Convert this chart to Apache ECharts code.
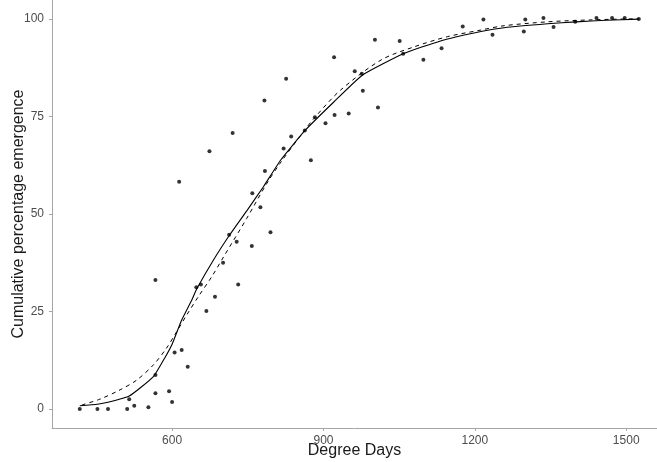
<!DOCTYPE html>
<html>
<head>
<meta charset="utf-8">
<script src="https://cdn.jsdelivr.net/npm/echarts@6/dist/echarts.min.js"></script>
<style>
  html, body { margin: 0; padding: 0; background: #fff; }
  #chart { width: 657px; height: 462px; }
</style>
</head>
<body>
<div id="chart"></div>
<script>
// observed emergence (degree days, cumulative %)
const obsDD = [417, 452, 473, 511, 515, 525, 553, 567, 567, 567, 594, 600, 605, 614, 619, 631, 648, 657,
  668, 674, 685, 701, 713, 720, 728, 731, 758, 759, 775, 783, 784, 795, 821, 826, 836, 863, 875, 883,
  904, 921, 922, 950, 962, 976, 978, 1002, 1008, 1051, 1058, 1098, 1134, 1176, 1217, 1235, 1297, 1300,
  1336, 1356, 1399, 1441, 1472, 1497, 1525];
const obsPct = [0, 0, 0, 0, 2.5, 0.8, 0.4, 4.0, 8.7, 33.1, 4.5, 1.8, 14.5, 58.3, 15.1, 10.8, 31.2, 31.9,
  25.1, 66.1, 28.8, 37.5, 44.7, 70.8, 42.9, 31.9, 41.8, 55.3, 51.7, 79.1, 61.0, 45.3, 66.8, 84.7, 69.9, 71.4, 63.8, 74.8,
  73.3, 90.2, 75.4, 75.8, 86.6, 86.0, 81.6, 94.7, 77.3, 94.4, 91.1, 89.6, 92.5, 98.1, 99.9, 96.0, 96.8, 99.9,
  100.3, 98.0, 99.3, 100.3, 100.3, 100.3, 100];

// fitted model (solid)
const fitDD = [417, 452, 473, 515, 563, 586, 600, 619, 640, 649, 682, 714, 749, 781, 815,
  864, 921, 977, 1058, 1132, 1212, 1258, 1344, 1401, 1460, 1525];
const fitPct = [0.8, 1.2, 1.7, 3.3, 8.3, 13.2, 16.6, 22.8, 28.2, 30.8, 38.2, 44.6, 51, 57, 63.8,
  71.5, 78.8, 85.6, 91.1, 94.4, 96.8, 97.8, 98.8, 99.3, 99.7, 100];

// second model (dashed)
const fit2DD = [421, 457, 497, 530, 563, 589, 609, 629, 652, 679, 702, 748, 788, 814, 861, 881, 934, 1014,
  1080, 1146, 1212, 1258, 1344, 1430, 1525];
const fit2Pct = [1.0, 2.5, 4.9, 7.4, 11.3, 15.6, 19.8, 24.1, 28.8, 34, 39, 48.9, 57.9, 63, 71.2, 74.5, 81.8, 89.5,
  92.9, 95.5, 97.2, 98.3, 99.3, 99.8, 100.1];

const xTicks = [600, 900, 1200, 1500];
const yTicks = [0, 25, 50, 75, 100];

const pairs = (xs, ys) => xs.map((x, i) => [x, ys[i]]);

const chart = echarts.init(document.getElementById('chart'));
const axisGray = '#a6a6a6';
const labelGray = '#4d4d4d';

chart.setOption({
  animation: false,
  grid: { left: 52, right: 0, top: 0, bottom: 34, containLabel: false, outerBoundsMode: 'none' },
  xAxis: {
    type: 'value',
    min: 362,
    max: 1561,
    name: 'Degree Days',
    nameLocation: 'middle',
    nameGap: 15,
    nameMoveOverlap: false,
    nameTextStyle: { color: '#1a1a1a', fontSize: 16, fontFamily: 'Liberation Sans' },
    axisLine: { show: true, onZero: false, lineStyle: { color: axisGray, width: 1 } },
    axisTick: { show: true, length: 3, customValues: xTicks, lineStyle: { color: axisGray } },
    axisLabel: { customValues: xTicks, formatter: v => String(v), color: labelGray, fontSize: 12, margin: 7, fontFamily: 'Liberation Sans' },
    splitLine: { show: false }
  },
  yAxis: {
    type: 'value',
    min: -4.9,
    max: 104.9,
    name: 'Cumulative percentage emergence',
    nameLocation: 'middle',
    nameGap: 25,
    nameMoveOverlap: false,
    nameTextStyle: { color: '#1a1a1a', fontSize: 16, fontFamily: 'Liberation Sans' },
    axisLine: { show: true, onZero: false, lineStyle: { color: axisGray, width: 1 } },
    axisTick: { show: true, length: 3, customValues: yTicks, lineStyle: { color: axisGray } },
    axisLabel: { customValues: yTicks, formatter: v => String(v), color: labelGray, fontSize: 12, margin: 8, fontFamily: 'Liberation Sans' },
    splitLine: { show: false }
  },
  series: [
    {
      type: 'line',
      data: pairs(fitDD, fitPct),
      showSymbol: false,
      smooth: 0.15,
      lineStyle: { color: '#000', width: 1.1 },
      z: 3
    },
    {
      type: 'line',
      data: pairs(fit2DD, fit2Pct),
      showSymbol: false,
      smooth: 0.3,
      lineStyle: { color: '#000', width: 1, type: [4, 4] },
      z: 3
    },
    {
      type: 'scatter',
      data: pairs(obsDD, obsPct),
      symbolSize: 4,
      itemStyle: { color: '#000' },
      z: 4
    }
  ]
});
</script>
</body>
</html>
